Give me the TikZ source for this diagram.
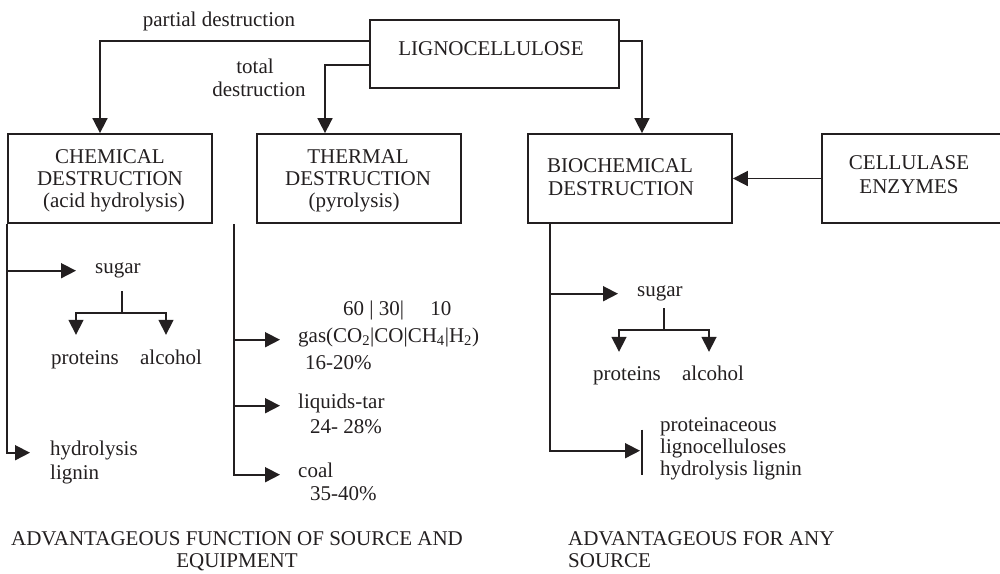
\documentclass[tikz,border=0pt]{standalone}
\usepackage{fontspec}
\setmainfont{Liberation Serif}
\usetikzlibrary{arrows.meta}
\definecolor{ink}{RGB}{35,31,32}
\begin{document}
\begin{tikzpicture}[x=1pt,y=-1pt,
  every node/.style={font=\fontsize{21}{24}\selectfont, text=ink},
  box/.style={draw=ink, line width=1.8pt, inner sep=0pt, minimum height=89pt},
  txt/.style={inner sep=0pt, text height=14pt, text depth=5pt, anchor=base},
  txtl/.style={txt, anchor=base west},
  conn/.style={draw=ink, line width=1.7pt},
  arr/.style={conn, -{Triangle[length=15pt,width=15pt]}}]
\useasboundingbox (0,0) rectangle (1000,573);
\clip (0,0) rectangle (1000,573);

% boxes
\node[box, minimum width=249pt, minimum height=68pt] (ligno) at (494.5,54) {};
\node[box, minimum width=204pt] (chem)  at (110,178.5) {};
\node[box, minimum width=204pt] (therm) at (359,178.5) {};
\node[box, minimum width=204pt] (bio)   at (630,178.5) {};
\node[box, minimum width=190pt] (cell)  at (917,178.5) {};

% box captions
\node[txt] (lignoT) at (491,55) {LIGNOCELLULOSE};
\node[txt] (chem1) at (110,163) {CHEMICAL};
\node[txt] (chem2) at (110,185) {DESTRUCTION};
\node[txt] (chem3) at (114,207) {(acid hydrolysis)};
\node[txt] (therm1) at (358,163) {THERMAL};
\node[txt] (therm2) at (358,185) {DESTRUCTION};
\node[txt] (therm3) at (354,207) {(pyrolysis)};
\node[txt] (bio1) at (620,172) {BIOCHEMICAL};
\node[txt] (bio2) at (621,195) {DESTRUCTION};
\node[txt] (cell1) at (909,169) {CELLULASE};
\node[txt] (cell2) at (909,193) {ENZYMES};

% route labels
\node[txt] (partial) at (219,26) {partial destruction};
\node[txt] (total1) at (255,73) {total};
\node[txt] (total2) at (259,96) {destruction};

% routes from the raw material
\draw[arr] ([yshift=-22pt]ligno.north west) -| ([xshift=-10pt]chem.north);
\draw[arr] ([yshift=-46pt]ligno.north west) -| ([xshift=-34pt]therm.north);
\draw[arr] ([yshift=-22pt]ligno.north east) -| ([xshift=12pt]bio.north);
\draw[arr] (cell.west) -- (cell.west -| bio.east);

% chemical products
\node[txtl] (sugarA) at (95,273) {sugar};
\node[txt] (protA) at (85,364) {proteins};
\node[txt] (alcA) at (171,364) {alcohol};
\node[txtl] (hl1) at (50,455) {hydrolysis};
\node[txtl] (hl2) at (50,479) {lignin};
\draw[arr] (chem.south west) |- ([xshift=-19pt]sugarA.mid west);
\draw[arr] (chem.south west) |- ([xshift=-20pt]hl1.mid west);
\draw[arr] ([shift={(4,13)}]sugarA.south) -- ++(0,22) -| ([shift={(-9,-15)}]protA.north);
\draw[arr] ([shift={(4,35)}]sugarA.south) -| ([shift={(-5,-15)}]alcA.north);

% thermal products
\coordinate (tt) at (234,224);
\node[txtl] (ratio) at (343,315) {60 | 30|\hspace{1.25em}10};
\node[txtl] (gas) at (298,342) {gas(CO\textsubscript{2}|CO|CH\textsubscript{4}|H\textsubscript{2})};
\node[txtl] (gasp) at (305,369) {16-20\%};
\node[txtl] (liq) at (298,408) {liquids-tar};
\node[txtl] (liqp) at (310,433) {24- 28\%};
\node[txtl] (coal) at (298,477) {coal};
\node[txtl] (coalp) at (310,500) {35-40\%};
\draw[arr] (tt) |- ([xshift=-18pt]coal.mid west);
\draw[arr] (tt |- gas.mid west) -- ([xshift=-18pt]gas.mid west);
\draw[arr] (tt |- liq.mid west) -- ([xshift=-18pt]liq.mid west);

% biochemical products
\node[txtl] (sugarB) at (637,296) {sugar};
\node[txt] (protB) at (627,380) {proteins};
\node[txt] (alcB) at (713,380) {alcohol};
\node[txtl] (pro1) at (660,431) {proteinaceous};
\node[txtl] (pro2) at (660,453) {lignocelluloses};
\node[txtl] (pro3) at (660,475) {hydrolysis lignin};
\draw[arr] ([xshift=23pt]bio.south west) |- ([xshift=-19pt]sugarB.mid west);
\draw[arr] ([xshift=23pt]bio.south west) |- ([xshift=-20pt]pro2.mid west);
\draw[conn] ([shift={(-18,-21)}]pro2.mid west) -- ([shift={(-18,24)}]pro2.mid west);
\draw[arr] ([shift={(4,7)}]sugarB.south) -- ++(0,22) -| ([shift={(-8,-14)}]protB.north);
\draw[arr] ([shift={(4,29)}]sugarB.south) -| ([shift={(-4,-14)}]alcB.north);

% notes under the branches
\node[txt] (adv1) at (237,545) {ADVANTAGEOUS FUNCTION OF SOURCE AND};
\node[txt] (adv2) at (237,567) {EQUIPMENT};
\node[txtl] (any1) at (568,545) {ADVANTAGEOUS FOR ANY};
\node[txtl] (any2) at (568,567) {SOURCE};
\end{tikzpicture}
\end{document}
